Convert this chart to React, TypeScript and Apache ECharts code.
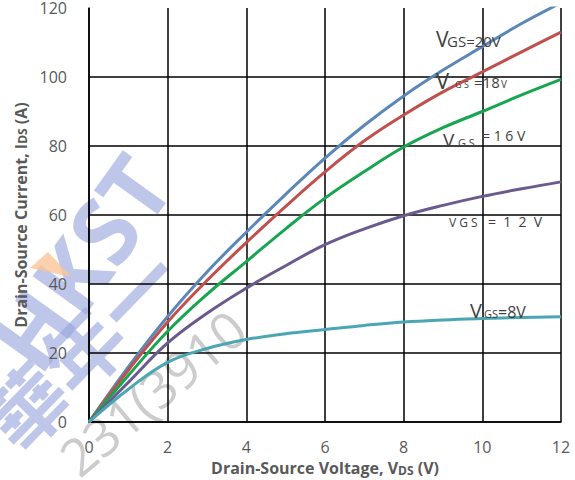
import React, { useEffect, useRef } from "react";
import * as echarts from "echarts";

// Drain-source voltage samples (V)
const vds = [0, 1, 2, 3, 4, 5, 6, 7, 8, 9, 10, 11, 12];

// Drain current (A) for each gate voltage
const ids20V = [0, 16, 30.6, 43.5, 55, 66, 76.5, 86, 94.5, 102, 108.8, 115.5, 121.5];
const ids18V = [0, 15, 29, 41, 52, 62.5, 72.5, 81.5, 89, 95.7, 101.5, 107.3, 113];
const ids16V = [0, 13.5, 26.3, 37, 46.5, 56, 64.9, 72.6, 79.7, 85.3, 90, 94.8, 99.3];
const ids12V = [0, 11.5, 22.9, 31.5, 38.8, 45.3, 51.4, 56, 59.8, 62.8, 65.4, 67.6, 69.6];
const ids8V = [0, 9.5, 17.3, 21.3, 23.9, 25.6, 26.8, 28, 29, 29.6, 30, 30.3, 30.5];

const seriesNames = ["VGS=20V", "VGS=18V", "VGS=16V", "VGS=12V", "VGS=8V"];
const seriesColors = ["#5b87b9", "#c0504d", "#17a650", "#6b5a8e", "#4ba6b4"];

const xTicks = [0, 2, 4, 6, 8, 10, 12];
const yTicks = [0, 20, 40, 60, 80, 100, 120];

const FONT = "'Open Sans', 'Noto Sans', sans-serif";
const LABEL_INK = "#3f3f3f";
const AXIS_INK = "#595959";

// Curve annotations: [text, left x, baseline y, font size]
const curveLabels: [string, number, number, number][] = [
  ["V", 436, 47, 21],
  ["GS=20V", 447, 47, 15],
  ["V", 436, 88, 22],
  ["G S", 455, 88, 9],
  ["=18", 474, 88, 15],
  ["V", 501, 88, 10],
  ["V", 443, 147, 19],
  ["G S", 458, 147, 11],
  ["= 1 6 V", 482, 141, 14],
  ["V G S", 449, 227, 12],
  ["=  1  2  V", 488, 227, 14],
  ["V", 470, 318, 20],
  ["GS", 484, 318, 11],
  ["=8V", 498, 318, 16],
];

function textAt(t: string, x: number, baseline: number, size: number) {
  return {
    type: "text",
    x,
    y: baseline - 0.37 * size,
    z: 10,
    silent: true,
    style: {
      text: t,
      fill: LABEL_INK,
      font: `${size}px ${FONT}`,
      align: "left",
      verticalAlign: "middle",
    },
  };
}

function watermark() {
  return [
    {
      type: "text",
      x: 80,
      y: 262,
      rotation: 0.95,
      z: -5,
      silent: true,
      style: {
        text: "HKST",
        fill: "rgba(150,164,220,0.62)",
        font: `bold 92px ${FONT}`,
        align: "center",
        verticalAlign: "middle",
      },
    },
    {
      type: "polygon",
      z: -4,
      silent: true,
      shape: { points: [[30, 268], [48, 252], [72, 277]] },
      style: { fill: "rgba(250,196,152,0.8)" },
    },
    {
      type: "text",
      x: 80,
      y: 347,
      rotation: 0.8,
      z: -5,
      silent: true,
      style: {
        text: "華年一",
        fill: "rgba(150,164,220,0.62)",
        font: `bold 80px 'Noto Sans CJK TC', sans-serif`,
        align: "center",
        verticalAlign: "middle",
      },
    },
    {
      type: "text",
      x: 152,
      y: 392,
      rotation: 0.7,
      z: -5,
      silent: true,
      style: {
        text: "231(3910",
        fill: "rgba(170,170,170,0.6)",
        font: `52px ${FONT}`,
        align: "center",
        verticalAlign: "middle",
      },
    },
  ];
}

export default function App() {
  const ref = useRef<HTMLDivElement>(null);

  useEffect(() => {
    document.body.style.margin = "0";
    if (!ref.current) return;
    const chart = echarts.init(ref.current, null, { renderer: "svg" });
    const all = [ids20V, ids18V, ids16V, ids12V, ids8V];
    const nameRich = {
      a: { fontSize: 16, fontWeight: "bold", color: AXIS_INK, fontFamily: FONT, verticalAlign: "bottom", lineHeight: 20 },
      s: { fontSize: 12, fontWeight: "bold", color: AXIS_INK, fontFamily: FONT, verticalAlign: "bottom", lineHeight: 18 },
    };

    chart.setOption({
      animation: false,
      backgroundColor: "#ffffff",
      grid: { left: 89, right: 14, top: 8, bottom: 58, containLabel: false, outerBoundsMode: "none" },
      xAxis: {
        type: "value",
        min: xTicks[0],
        max: xTicks[xTicks.length - 1],
        interval: 2,
        axisLine: { show: true, lineStyle: { color: "#000", width: 1.5 } },
        axisTick: { show: false },
        splitLine: { show: true, lineStyle: { color: "#000", width: 1.5 } },
        axisLabel: { color: AXIS_INK, fontSize: 16, fontFamily: FONT, margin: 17 },
        name: "{a|Drain-Source Voltage, V}{s|DS}{a| (V)}",
        nameLocation: "middle",
        nameGap: 34,
        nameTextStyle: { rich: nameRich },
      },
      yAxis: {
        type: "value",
        min: yTicks[0],
        max: yTicks[yTicks.length - 1],
        interval: 20,
        axisLine: { show: true, lineStyle: { color: "#000", width: 1.5 } },
        axisTick: { show: false },
        splitLine: { show: true, showMaxLine: false, lineStyle: { color: "#000", width: 1.5 } },
        axisLabel: { color: AXIS_INK, fontSize: 16, fontFamily: FONT, margin: 22 },
        name: "{a|Drain-Source Current, I}{s|DS}{a| (A)}",
        nameLocation: "middle",
        nameGap: 60,
        nameTextStyle: { rich: nameRich },
      },
      series: all.map((vals, i) => ({
        name: seriesNames[i],
        type: "line",
        data: vds.map((v, k) => [v, vals[k]]),
        smooth: 0.4,
        showSymbol: false,
        clip: true,
        lineStyle: { color: seriesColors[i], width: 3 },
        z: 5,
      })),
      graphic: [
        ...watermark(),
        ...curveLabels.map(([t, x, y, s]) => textAt(t, x, y, s)),
      ],
    });

    return () => chart.dispose();
  }, []);

  return <div ref={ref} style={{ width: 575, height: 480 }} />;
}
